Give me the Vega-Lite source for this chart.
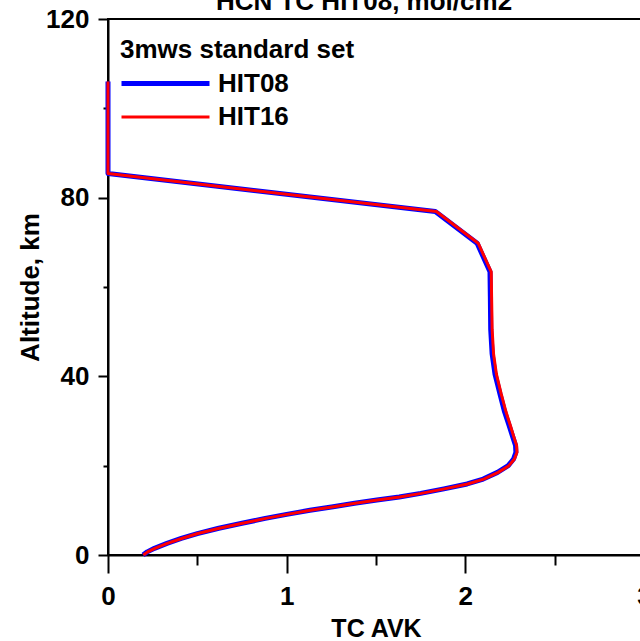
{
  "$schema": "https://vega.github.io/schema/vega-lite/v6.json",
  "autosize": {"type": "none"},
  "padding": {"left": 108, "top": 19, "right": 0, "bottom": 86},
  "width": 536,
  "height": 536,
  "background": "white",
  "title": {"text": "HCN TC HIT08, mol/cm2", "fontSize": 26, "font": "Liberation Sans", "fontWeight": "bold", "color": "black", "anchor": "middle", "frame": "group", "baseline": "alphabetic", "offset": -30, "dx": -12},
  "config": {
    "view": {"stroke": "black", "strokeWidth": 2},
    "axis": {"domainColor": "black", "domainWidth": 2, "tickColor": "black", "tickWidth": 2, "labelFont": "Liberation Sans", "labelFontWeight": "bold", "labelFontSize": 26, "labelColor": "black", "titleFont": "Liberation Sans", "titleFontWeight": "bold", "titleFontSize": 26, "titleColor": "black", "grid": false},
    "legend": {"titleFont": "Liberation Sans", "titleFontWeight": "bold", "titleFontSize": 26, "titleColor": "black", "labelFont": "Liberation Sans", "labelFontWeight": "bold", "labelFontSize": 26, "labelColor": "black", "titleLimit": 500, "labelLimit": 300}
  },
  "data": {"values": [
    {"series": "HIT08", "v": 0.196, "alt": 0},
    {"series": "HIT08", "v": 0.22, "alt": 0.7},
    {"series": "HIT08", "v": 0.26, "alt": 1.5},
    {"series": "HIT08", "v": 0.33, "alt": 2.6},
    {"series": "HIT08", "v": 0.41, "alt": 3.7},
    {"series": "HIT08", "v": 0.5, "alt": 4.8},
    {"series": "HIT08", "v": 0.62, "alt": 6.0},
    {"series": "HIT08", "v": 0.75, "alt": 7.1},
    {"series": "HIT08", "v": 0.88, "alt": 8.2},
    {"series": "HIT08", "v": 1.0, "alt": 9.1},
    {"series": "HIT08", "v": 1.13, "alt": 10.0},
    {"series": "HIT08", "v": 1.26, "alt": 10.8},
    {"series": "HIT08", "v": 1.38, "alt": 11.6},
    {"series": "HIT08", "v": 1.505, "alt": 12.3},
    {"series": "HIT08", "v": 1.63, "alt": 13.0},
    {"series": "HIT08", "v": 1.75, "alt": 13.8},
    {"series": "HIT08", "v": 1.88, "alt": 14.8},
    {"series": "HIT08", "v": 2.01, "alt": 15.9},
    {"series": "HIT08", "v": 2.1, "alt": 17.0},
    {"series": "HIT08", "v": 2.18, "alt": 18.5},
    {"series": "HIT08", "v": 2.24, "alt": 20.0},
    {"series": "HIT08", "v": 2.27, "alt": 21.5},
    {"series": "HIT08", "v": 2.283, "alt": 23.0},
    {"series": "HIT08", "v": 2.281, "alt": 24.5},
    {"series": "HIT08", "v": 2.265, "alt": 26.5},
    {"series": "HIT08", "v": 2.245, "alt": 29.0},
    {"series": "HIT08", "v": 2.22, "alt": 32.0},
    {"series": "HIT08", "v": 2.193, "alt": 36.2},
    {"series": "HIT08", "v": 2.166, "alt": 40.5},
    {"series": "HIT08", "v": 2.15, "alt": 45.0},
    {"series": "HIT08", "v": 2.142, "alt": 50.5},
    {"series": "HIT08", "v": 2.14, "alt": 57.8},
    {"series": "HIT08", "v": 2.138, "alt": 63.4},
    {"series": "HIT08", "v": 2.066, "alt": 69.8},
    {"series": "HIT08", "v": 1.832, "alt": 76.9},
    {"series": "HIT08", "v": 0.0, "alt": 85.4},
    {"series": "HIT08", "v": 0.0, "alt": 106.0},
    {"series": "HIT16", "v": 0.198, "alt": 0},
    {"series": "HIT16", "v": 0.222, "alt": 0.7},
    {"series": "HIT16", "v": 0.262, "alt": 1.5},
    {"series": "HIT16", "v": 0.332, "alt": 2.6},
    {"series": "HIT16", "v": 0.412, "alt": 3.7},
    {"series": "HIT16", "v": 0.503, "alt": 4.8},
    {"series": "HIT16", "v": 0.623, "alt": 6.0},
    {"series": "HIT16", "v": 0.753, "alt": 7.1},
    {"series": "HIT16", "v": 0.883, "alt": 8.2},
    {"series": "HIT16", "v": 1.003, "alt": 9.1},
    {"series": "HIT16", "v": 1.133, "alt": 10.0},
    {"series": "HIT16", "v": 1.263, "alt": 10.8},
    {"series": "HIT16", "v": 1.383, "alt": 11.6},
    {"series": "HIT16", "v": 1.508, "alt": 12.3},
    {"series": "HIT16", "v": 1.633, "alt": 13.0},
    {"series": "HIT16", "v": 1.753, "alt": 13.8},
    {"series": "HIT16", "v": 1.883, "alt": 14.8},
    {"series": "HIT16", "v": 2.013, "alt": 15.9},
    {"series": "HIT16", "v": 2.103, "alt": 17.0},
    {"series": "HIT16", "v": 2.184, "alt": 18.5},
    {"series": "HIT16", "v": 2.244, "alt": 20.0},
    {"series": "HIT16", "v": 2.275, "alt": 21.5},
    {"series": "HIT16", "v": 2.289, "alt": 23.0},
    {"series": "HIT16", "v": 2.287, "alt": 24.5},
    {"series": "HIT16", "v": 2.271, "alt": 26.5},
    {"series": "HIT16", "v": 2.252, "alt": 29.0},
    {"series": "HIT16", "v": 2.228, "alt": 32.0},
    {"series": "HIT16", "v": 2.2, "alt": 36.2},
    {"series": "HIT16", "v": 2.174, "alt": 40.5},
    {"series": "HIT16", "v": 2.158, "alt": 45.0},
    {"series": "HIT16", "v": 2.15, "alt": 50.5},
    {"series": "HIT16", "v": 2.147, "alt": 57.8},
    {"series": "HIT16", "v": 2.145, "alt": 63.4},
    {"series": "HIT16", "v": 2.072, "alt": 69.8},
    {"series": "HIT16", "v": 1.838, "alt": 76.9},
    {"series": "HIT16", "v": 0.0, "alt": 85.4},
    {"series": "HIT16", "v": 0.0, "alt": 106.0}
  ]},
  "layer": [
    {
      "mark": {"type": "line", "clip": false, "strokeJoin": "round"},
      "encoding": {
        "x": {"field": "v", "type": "quantitative", "scale": {"domain": [0, 3], "nice": false, "zero": false},
              "axis": {"orient": "bottom", "values": [0, 1, 2, 3], "tickSize": 18, "labelPadding": 10, "labelFlush": false, "labelOverlap": false, "title": "TC AVK", "titleFontSize": 25, "titlePadding": 7}},
        "y": {"field": "alt", "type": "quantitative", "scale": {"domain": [0, 120], "nice": false, "zero": false},
              "axis": {"orient": "left", "values": [0, 40, 80, 120], "tickSize": 10, "labelPadding": 9, "labelFlush": false, "labelOverlap": false, "title": "Altitude, km", "titlePadding": 2}},
        "order": {"field": "alt", "type": "quantitative"},
        "color": {"field": "series", "type": "ordinal", "scale": {"domain": ["HIT08", "HIT16"], "range": ["#0000ff", "#ff0000"]},
                  "legend": {"title": "3mws standard set", "orient": "none", "legendX": 12, "legendY": 18, "symbolType": "M-4,0H4", "symbolSize": 484, "symbolOffset": 32, "labelOffset": 39, "rowPadding": 7, "titlePadding": 7}},
        "strokeWidth": {"field": "series", "type": "ordinal", "scale": {"domain": ["HIT08", "HIT16"], "range": [5, 3]},
                  "legend": {"title": "3mws standard set", "orient": "none", "legendX": 12, "legendY": 18, "symbolType": "M-4,0H4", "symbolSize": 484, "symbolOffset": 32, "labelOffset": 39, "rowPadding": 7, "titlePadding": 7}}
      }
    },
    {
      "mark": {"type": "line", "opacity": 0},
      "encoding": {
        "x": {"field": "v", "type": "quantitative", "scale": {"domain": [0, 3], "nice": false, "zero": false},
              "axis": {"orient": "bottom", "values": [0.5, 1.5, 2.5], "tickSize": 10, "labels": false, "domain": false, "title": null}},
        "y": {"field": "alt", "type": "quantitative", "scale": {"domain": [0, 120], "nice": false, "zero": false},
              "axis": {"orient": "left", "values": [20, 60, 100], "tickSize": 5, "labels": false, "domain": false, "title": null}},
        "detail": {"field": "series", "type": "nominal"}
      }
    }
  ],
  "resolve": {"axis": {"x": "independent", "y": "independent"}}
}
